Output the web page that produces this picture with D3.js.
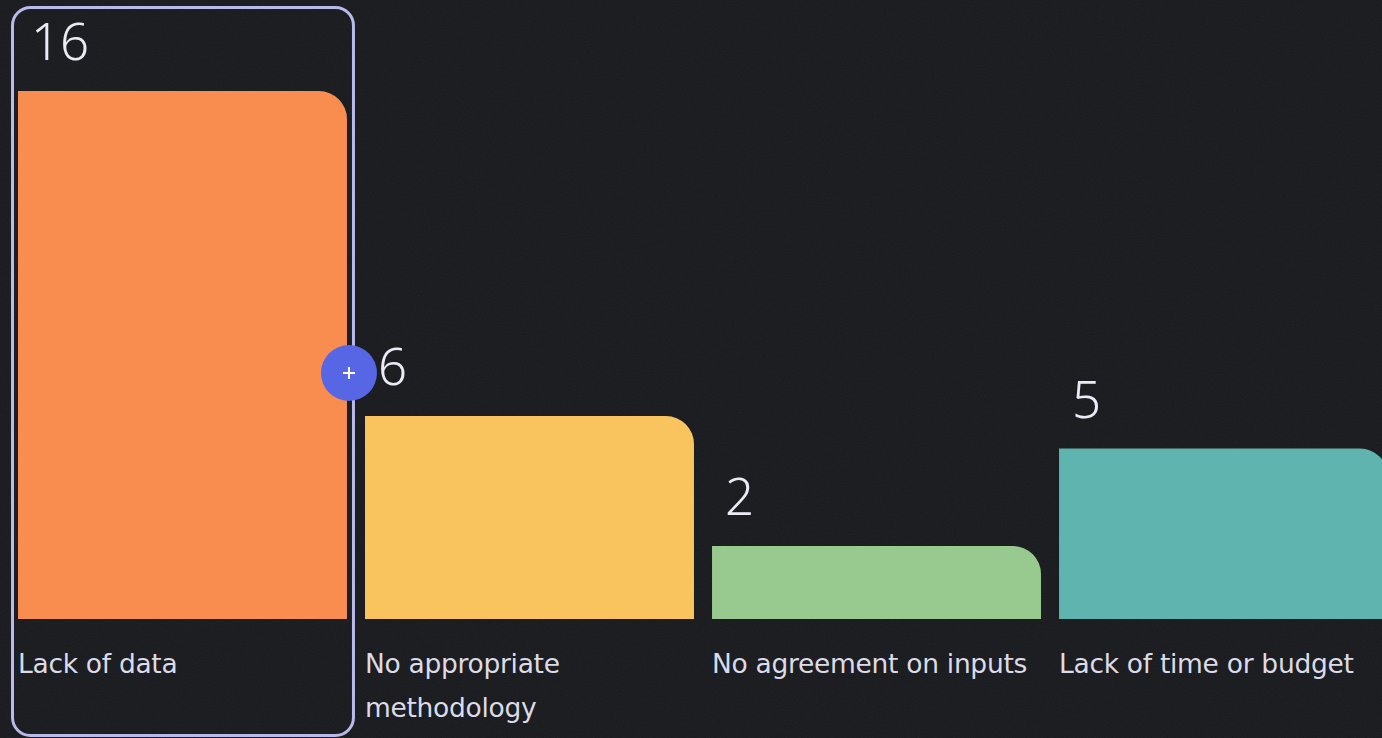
<!DOCTYPE html>
<html><head><meta charset="utf-8">
<script src="https://cdn.jsdelivr.net/npm/d3@7"></script>
<style>
html,body{margin:0;padding:0;background:#1a1c1f;overflow:hidden;}
svg{display:block;}
</style></head>
<body>
<svg id="chart" width="1382" height="738"></svg>
<script>
const categories = ["Lack of data", "No appropriate methodology", "No agreement on inputs", "Lack of time or budget"];
const values = [16, 6, 2, 5];
const colors = ["#f98d50", "#f9c45e", "#98c98f", "#5fb4b0"];
const selectedIndex = 0;

const W = 1382, H = 738;
const svg = d3.select("#chart");

// background with subtle grain
const defs = svg.append("defs");
const f = defs.append("filter").attr("id","grain").attr("x",0).attr("y",0).attr("width","100%").attr("height","100%");
f.append("feTurbulence").attr("type","fractalNoise").attr("baseFrequency",0.9).attr("numOctaves",2).attr("seed",3).attr("result","n");
f.append("feColorMatrix").attr("in","n").attr("type","matrix")
  .attr("values","0 0 0 0 0.5  0 0 0 0 0.5  0 0 0 0 0.55  0 0 0 0.06 0");
svg.append("rect").attr("width",W).attr("height",H).attr("fill","#17191c");
svg.append("rect").attr("width",W).attr("height",H).attr("filter","url(#grain)");

const baseline = 619, minStub = 8;
const x = d3.scaleBand().domain(categories).range([18, 1388]).paddingInner(0.052).paddingOuter(0);
const y = d3.scaleLinear().domain([0, 16]).range([baseline - minStub, 91]);

const r = 28;
function barPath(x0, y0, w, yb) {
  const rr = Math.min(r, w, yb - y0);
  return `M${x0},${yb}V${y0}H${x0 + w - rr}A${rr},${rr} 0 0 1 ${x0 + w},${y0 + rr}V${yb}Z`;
}

const g = svg.append("g");
const data = categories.map((c, i) => ({c, v: values[i], col: colors[i], i}));

// selection outline
const sel = data[selectedIndex];
svg.append("rect")
  .attr("x", x(sel.c) - 5.5).attr("y", 7.5)
  .attr("width", x.bandwidth() + 12).attr("height", 728)
  .attr("rx", 18).attr("fill", "none").attr("stroke", "#b9b9ea").attr("stroke-width", 3);

g.selectAll("path.bar").data(data).join("path")
  .attr("class","bar")
  .attr("d", d => barPath(x(d.c), y(d.v), x.bandwidth(), baseline))
  .attr("fill", d => d.col);

g.selectAll("text.val").data(data).join("text")
  .attr("class","val")
  .attr("x", d => x(d.c) + 13)
  .attr("y", d => y(d.v) - 31)
  .attr("fill", "#eceaf6")
  .attr("font-family", "'Noto Sans', sans-serif")
  .attr("font-weight", 300)
  .attr("font-size", 51)
  .text(d => d.v);

// category labels with wrapping
const lab = g.selectAll("text.cat").data(data).join("text")
  .attr("class","cat")
  .attr("x", d => x(d.c))
  .attr("y", 673)
  .attr("fill", "#dcdbe8")
  .attr("font-family", "'DejaVu Sans', sans-serif")
  .attr("font-size", 26.5)
  .attr("letter-spacing", -0.3);
lab.each(function(d){
  const t = d3.select(this);
  const words = d.c.split(" ");
  let line = [], lines = [];
  const tmp = t.append("tspan");
  words.forEach(w => {
    const test = line.concat(w).join(" ");
    tmp.text(test);
    if (tmp.node().getComputedTextLength() > x.bandwidth() && line.length) {
      lines.push(line.join(" ")); line = [w];
    } else line.push(w);
  });
  lines.push(line.join(" "));
  tmp.remove();
  lines.forEach((l, k) => t.append("tspan").attr("x", x(d.c)).attr("dy", k ? 44 : 0).text(l));
});

// plus handle
const hx = x(sel.c) + x.bandwidth() + 2, hy = 373;
svg.append("circle").attr("cx", hx).attr("cy", hy).attr("r", 28).attr("fill", "#5766e4");
svg.append("path").attr("d", `M${hx-6},${hy}H${hx+6}M${hx},${hy-6}V${hy+6}`)
  .attr("stroke", "#ffffff").attr("stroke-width", 2);
</script>
</body></html>
